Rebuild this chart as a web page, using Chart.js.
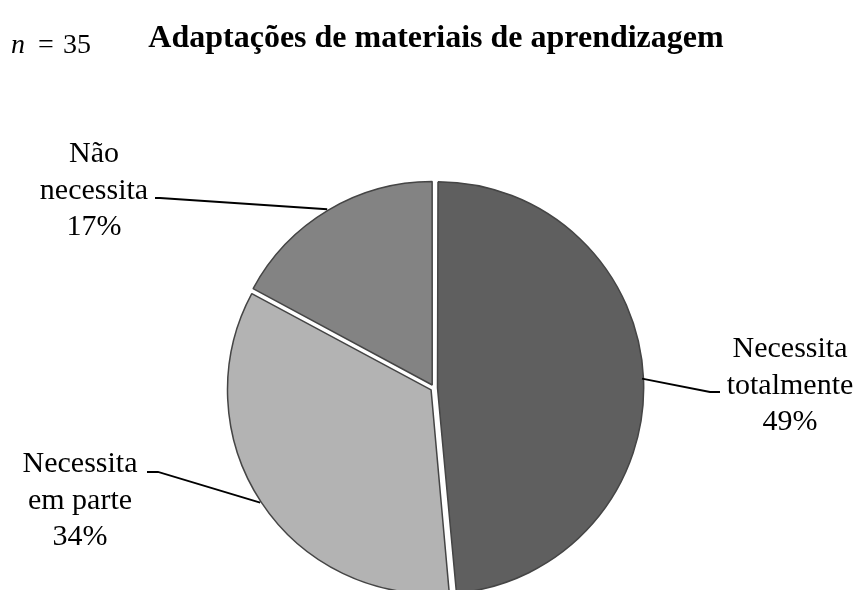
<!DOCTYPE html>
<html lang="pt">
<head>
<meta charset="utf-8">
<title>Adaptações de materiais de aprendizagem</title>
<script src="https://cdn.jsdelivr.net/npm/chart.js@4.4.1/dist/chart.umd.min.js"></script>
<style>
    html, body { margin: 0; padding: 0; background: #ffffff; }
    #contenedor { width: 860px; height: 590px; position: relative; }
</style>
</head>
<body>
<div id="contenedor"><canvas id="grafico"></canvas></div>
<script>
//DADOS DO GRÁFICO (RESPOSTAS, n = 35).
const categorias = ["Necessita totalmente", "Necessita em parte", "Não necessita"];
const linhasRotulo = [["Necessita", "totalmente"], ["Necessita", "em parte"], ["Não", "necessita"]];
const respostas = [17, 12, 6];
const totalN = 35;
const cores = ["#5f5f5f", "#b3b3b3", "#838383"];

const titulo = "Adaptações de materiais de aprendizagem";

//POSIÇÃO DOS RÓTULOS (centro x, linha de base da 1ª linha) E DA LINHA GUIA.
const posRotulos = [
    { x: 790, y: 357, linhaY: 392, cotoX: 710, fimX: 720 },
    { x: 80,  y: 472, linhaY: 472, cotoX: 158, fimX: 147 },
    { x: 94,  y: 162, linhaY: 198, cotoX: 160, fimX: 155 }
];

const fonteSerif = "'Liberation Serif', 'Times New Roman', serif";
const deslocamento = 14;  //Chart.js desloca a fatia offset/4 px.

//PLUGIN PARA DESENHAR TÍTULO, n E RÓTULOS COM LINHAS GUIA.
const pluginRotulos = {
    id: "rotulos",
    afterDatasetsDraw(chart) {
        const ctx = chart.ctx;
        const meta = chart.getDatasetMeta(0);
        ctx.save();

        ctx.fillStyle = "#000";
        ctx.textBaseline = "alphabetic";
        ctx.textAlign = "center";
        ctx.font = "bold 32px " + fonteSerif;
        ctx.fillText(titulo, 436, 47);

        ctx.textAlign = "left";
        ctx.font = "italic 28px " + fonteSerif;
        ctx.fillText("n", 11, 53);
        ctx.font = "28px " + fonteSerif;
        ctx.fillText("=", 38, 53);
        ctx.fillText(String(totalN), 63, 53);

        meta.data.forEach((arco, i) => {
            const p = arco.getProps(["x", "y", "startAngle", "endAngle", "outerRadius"], true);
            const meio = (p.startAngle + p.endAngle) / 2;
            const desl = deslocamento / 4;
            const bx = p.x + Math.cos(meio) * (p.outerRadius + desl * 1.5);
            const by = p.y + Math.sin(meio) * (p.outerRadius + desl * 1.5);
            const r = posRotulos[i];

            ctx.strokeStyle = "#000";
            ctx.lineWidth = 1.8;
            ctx.beginPath();
            ctx.moveTo(bx, by);
            ctx.lineTo(r.cotoX, r.linhaY);
            ctx.lineTo(r.fimX, r.linhaY);
            ctx.stroke();

            const pct = Math.round(respostas[i] / totalN * 100) + "%";
            const linhas = linhasRotulo[i].concat([pct]);
            ctx.textAlign = "center";
            ctx.font = "30px " + fonteSerif;
            linhas.forEach((t, k) => ctx.fillText(t, r.x, r.y + k * 36.5));
        });
        ctx.restore();
    }
};

const ctx = document.getElementById("grafico");
const config = {
    type: "pie",
    data: {
        labels: categorias,
        datasets: [{
            data: respostas,
            backgroundColor: cores,
            borderColor: "#454545",
            borderWidth: 1.5,
            offset: deslocamento
        }]
    },
    options: {
        responsive: false,
        animation: false,
        radius: 203,
        layout: { padding: { left: 8, right: 0, top: 186, bottom: 0 } },
        plugins: {
            legend: { display: false },
            tooltip: { enabled: false },
            title: { display: false }
        }
    },
    plugins: [pluginRotulos]
};
ctx.width = 860;
ctx.height = 590;
const grafico = new Chart(ctx, config);
</script>
</body>
</html>
